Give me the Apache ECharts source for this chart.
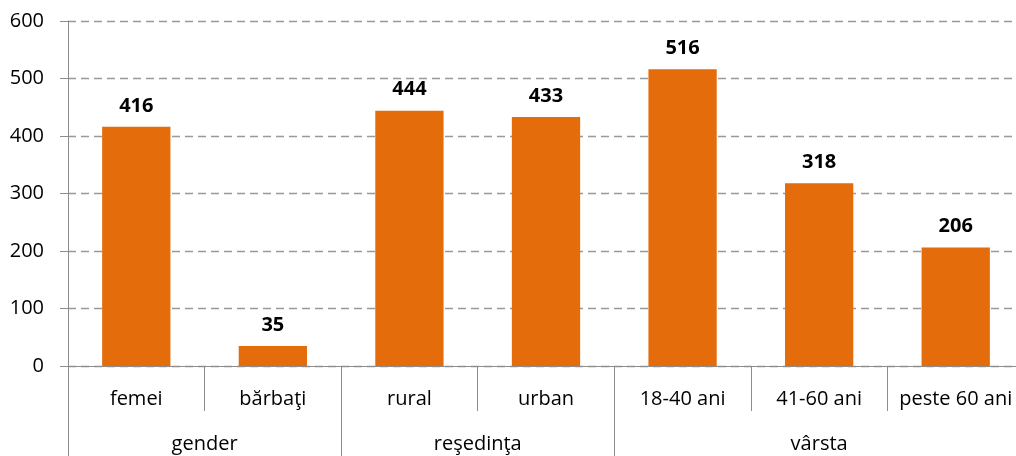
<!DOCTYPE html>
<html>
<head>
<meta charset="utf-8">
<script src="https://cdn.jsdelivr.net/npm/echarts@6/dist/echarts.min.js"></script>
<style>
  html, body { margin: 0; padding: 0; background: #fff; overflow: hidden; }
  #chart { width: 1024px; height: 456px; }
</style>
</head>
<body>
<div id="chart"></div>
<script>
// categorii (primul nivel) si valori
const categories = ['femei', 'bărbaţi', 'rural', 'urban', '18-40 ani', '41-60 ani', 'peste 60 ani'];
const values = [416, 35, 444, 433, 516, 318, 206];

// grupe (al doilea nivel): nume, nr. de categorii
const groupNames = ['gender', 'reşedinţa', 'vârsta'];
const groupSizes = [2, 2, 3];

const yTicks = [0, 100, 200, 300, 400, 500, 600];

// axa de grupe pe jumatati de categorie: 0, 0.5, ..., 7
const halfSlots = [];
for (let i = 0; i <= categories.length * 2; i++) halfSlots.push('');
const groupTickIdx = [0];
let acc = 0;
groupNames.forEach((name, i) => {
  const start = acc;
  acc += groupSizes[i] * 2;
  halfSlots[Math.round((start + acc) / 2)] = name;
  groupTickIdx.push(acc);
});

const FONT = '"Open Sans", "Noto Sans", sans-serif';
const GRAY = '#8c8c8c';

const chart = echarts.init(document.getElementById('chart'), null, { renderer: 'canvas' });

const option = {
  animation: false,
  grid: { left: 68, right: 0, top: 21, bottom: 90, containLabel: false },
  xAxis: [
    {
      type: 'category',
      data: categories,
      position: 'bottom',
      axisLine: { show: true, lineStyle: { color: GRAY, width: 1 } },
      axisTick: { show: true, alignWithLabel: false, length: 45, lineStyle: { color: GRAY } },
      axisLabel: { interval: 0, margin: 23, color: '#000', fontSize: 20, fontFamily: FONT },
      splitLine: { show: false }
    },
    {
      type: 'category',
      data: halfSlots,
      boundaryGap: false,
      position: 'bottom',
      offset: 0,
      axisLine: { show: false },
      axisTick: {
        show: true,
        length: 90,
        interval: (idx) => groupTickIdx.includes(idx),
        lineStyle: { color: GRAY }
      },
      axisLabel: {
        interval: (idx, val) => val !== '',
        margin: 68,
        color: '#000',
        fontSize: 20,
        fontFamily: FONT
      },
      splitLine: { show: false }
    }
  ],
  yAxis: {
    type: 'value',
    min: yTicks[0],
    max: yTicks[yTicks.length - 1],
    interval: 100,
    axisLine: { show: true, lineStyle: { color: GRAY, width: 1 } },
    axisTick: { show: true, length: 8, lineStyle: { color: GRAY } },
    axisLabel: { margin: 24, color: '#000', fontSize: 20, fontFamily: FONT },
    splitLine: { show: true, lineStyle: { color: '#999', type: [8, 5], width: 1.3 } }
  },
  series: [
    {
      type: 'bar',
      xAxisIndex: 0,
      data: values,
      barWidth: '50%',
      itemStyle: { color: '#E46C0A' },
      label: {
        show: true,
        position: 'top',
        distance: 11,
        color: '#000',
        fontWeight: 'bold',
        fontSize: 20,
        fontFamily: FONT
      }
    }
  ]
};

chart.setOption(option);
</script>
</body>
</html>
